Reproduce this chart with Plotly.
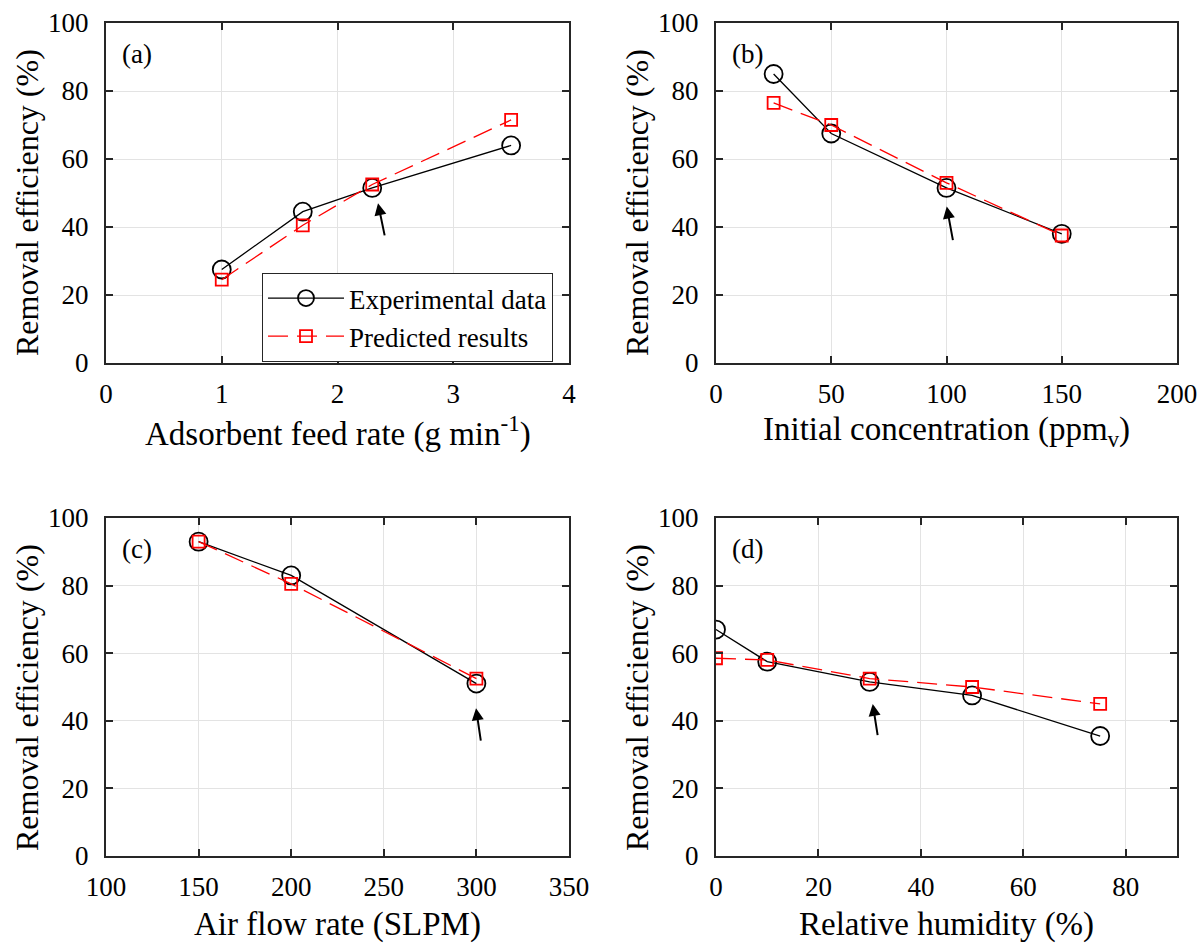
import plotly.graph_objects as go

W, H = 1203, 945

# ---------------- data ----------------
feed_rate = [1.0, 1.7, 2.3, 3.5]
feed_exp = [27.5, 44.5, 51.5, 64.0]
feed_pred = [24.5, 40.5, 52.5, 71.5]

conc = [25, 50, 100, 150]
conc_exp = [85.0, 67.5, 51.5, 38.0]
conc_pred = [76.5, 70.0, 53.0, 37.5]

airflow = [150, 200, 300]
air_exp = [93.0, 83.0, 51.0]
air_pred = [93.0, 80.5, 52.5]

humidity = [0, 10, 30, 50, 75]
hum_exp = [67.0, 57.5, 51.5, 47.5, 35.5]
hum_pred = [58.5, 58.0, 52.5, 50.0, 45.0]

# arrows (tail -> head) in data units
arrow_tail = [(2.41, 37.1), (102.9, 35.7), (302.5, 33.7), (31.6, 35.3)]
arrow_head = [(2.35, 47.0), (100.1, 46.0), (299.8, 43.7), (30.6, 45.0)]

panel_labels = ["(a)", "(b)", "(c)", "(d)"]
x_titles = ["Adsorbent feed rate (g min<sup>-1</sup>)",
            "Initial concentration (ppm<sub>v</sub>)",
            "Air flow rate (SLPM)",
            "Relative humidity (%)"]
y_title = "Removal efficiency (%)"

x_ranges = [[0, 4], [0, 200], [100, 350], [0, 90]]
x_ticks = [[0, 1, 2, 3, 4], [0, 50, 100, 150, 200],
           [100, 150, 200, 250, 300, 350], [0, 20, 40, 60, 80]]
y_ticks = [0, 20, 40, 60, 80, 100]

# ---------------- layout geometry (pixels) ----------------
col_px = [(106, 569), (716, 1177)]
row_px = [(23, 363), (518, 856)]

FONT = "Times New Roman, Liberation Serif, serif"
AX = "#262626"

fig = go.Figure()

datasets = [(feed_rate, feed_exp, feed_pred), (conc, conc_exp, conc_pred),
            (airflow, air_exp, air_pred), (humidity, hum_exp, hum_pred)]

for i, (xv, ye, yp) in enumerate(datasets):
    sfx = "" if i == 0 else str(i + 1)
    fig.add_trace(go.Scatter(
        x=xv, y=ye, mode="lines+markers", name="Experimental data",
        line=dict(color="black", width=1.3),
        marker=dict(symbol="circle-open", size=18, color="black",
                    line=dict(width=1.8, color="black")),
        xaxis="x" + sfx, yaxis="y" + sfx, showlegend=(i == 0)))
    fig.add_trace(go.Scatter(
        x=xv, y=yp, mode="lines+markers", name="Predicted results",
        line=dict(color="#ff0000", width=1.3, dash="20px,9px"),
        marker=dict(symbol="square-open", size=12, color="#ff0000",
                    line=dict(width=1.8, color="#ff0000")),
        xaxis="x" + sfx, yaxis="y" + sfx, showlegend=(i == 0)))

layout = dict(
    width=W, height=H,
    margin=dict(l=0, r=0, t=0, b=0, autoexpand=False),
    paper_bgcolor="white", plot_bgcolor="white",
    font=dict(family=FONT, size=26, color=AX),
    legend=dict(x=262 / W, y=1 - 273 / H, xanchor="left", yanchor="top",
                bgcolor="white", bordercolor=AX, borderwidth=1,
                font=dict(family=FONT, size=27, color="black"),
                itemwidth=76, tracegroupgap=0),
)

annotations = []
for i in range(4):
    r, c = divmod(i, 2)
    sfx = "" if i == 0 else str(i + 1)
    x0, x1 = col_px[c]
    y0, y1 = row_px[r]
    common = dict(showline=True, linecolor=AX, linewidth=2, mirror="ticks",
                  ticks="inside", ticklen=7, tickwidth=2, tickcolor=AX,
                  showgrid=True, gridcolor="#e3e3e3", gridwidth=1,
                  zeroline=False, automargin=False,
                  tickfont=dict(family=FONT, size=27, color="black"))
    layout["xaxis" + sfx] = dict(domain=[x0 / W, x1 / W], range=x_ranges[i],
                                 tickvals=x_ticks[i], anchor="y" + sfx,
                                 ticklabelstandoff=6, **common)
    layout["yaxis" + sfx] = dict(domain=[1 - y1 / H, 1 - y0 / H], range=[0, 100],
                                 tickvals=y_ticks, anchor="x" + sfx,
                                 ticklabelstandoff=10, **common)
    # panel label
    annotations.append(dict(x=(x0 + 31) / W, y=1 - (y0 + 31) / H, xref="paper", yref="paper",
                            text=panel_labels[i], showarrow=False,
                            font=dict(family=FONT, size=27, color="black"),
                            xanchor="center", yanchor="middle"))
    # x title
    annotations.append(dict(x=(x0 + x1) / 2 / W, y=1 - (y1 + 68) / H, xref="paper", yref="paper",
                            text=x_titles[i], showarrow=False,
                            font=dict(family=FONT, size=33, color="black"),
                            xanchor="center", yanchor="middle"))
    # y title
    annotations.append(dict(x=(x0 - 79) / W, y=1 - (y0 + 180) / H, xref="paper", yref="paper",
                            text=y_title, showarrow=False, textangle=-90,
                            font=dict(family=FONT, size=32, color="black"),
                            xanchor="center", yanchor="middle"))
    # arrow
    annotations.append(dict(x=arrow_head[i][0], y=arrow_head[i][1],
                            ax=arrow_tail[i][0], ay=arrow_tail[i][1],
                            xref="x" + sfx, yref="y" + sfx,
                            axref="x" + sfx, ayref="y" + sfx,
                            showarrow=True, arrowhead=2, arrowsize=1.2,
                            arrowwidth=2, arrowcolor="black", text=""))

layout["annotations"] = annotations
fig.update_layout(**layout)
fig.write_html("out.html")
